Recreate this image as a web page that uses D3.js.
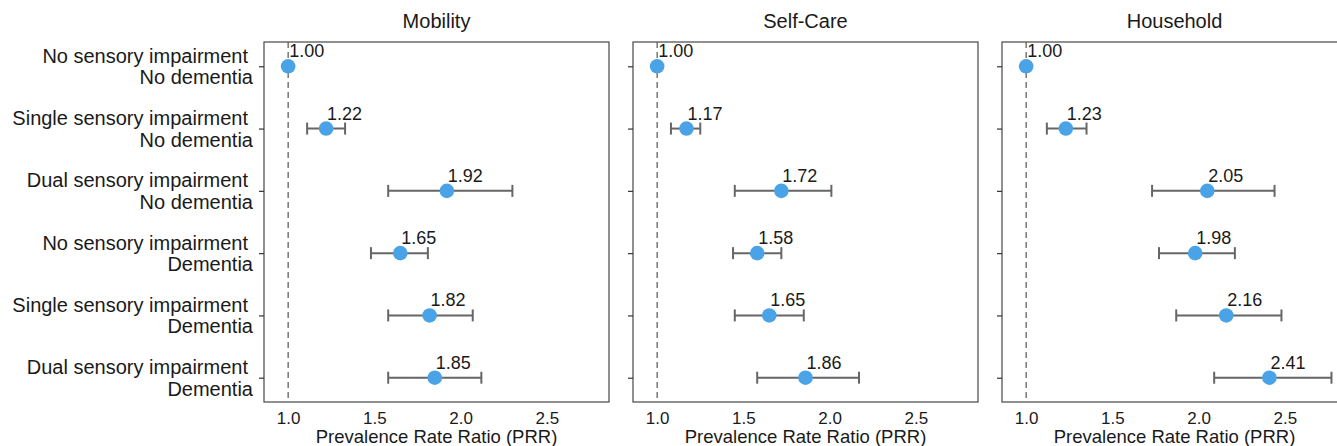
<!DOCTYPE html>
<html>
<head>
<meta charset="utf-8">
<script src="https://cdn.jsdelivr.net/npm/d3@7"></script>
<style>
  body { margin: 0; background: #fff; }
  text { font-family: "Liberation Sans", Arial, Helvetica, sans-serif; fill: #1a1a1a; }
</style>
</head>
<body>
<div id="chart"></div>
<script>
// row labels (two lines each)
var rowLine1 = ["No sensory impairment", "Single sensory impairment", "Dual sensory impairment",
                "No sensory impairment", "Single sensory impairment", "Dual sensory impairment"];
var rowLine2 = ["No dementia", "No dementia", "No dementia", "Dementia", "Dementia", "Dementia"];

var panelTitles = ["Mobility", "Self-Care", "Household"];

var mobilityPRR  = [1.00, 1.22, 1.92, 1.65, 1.82, 1.85];
var mobilityLow  = [1.00, 1.11, 1.58, 1.48, 1.58, 1.58];
var mobilityHigh = [1.00, 1.33, 2.30, 1.81, 2.07, 2.12];

var selfCarePRR  = [1.00, 1.17, 1.72, 1.58, 1.65, 1.86];
var selfCareLow  = [1.00, 1.08, 1.45, 1.44, 1.45, 1.58];
var selfCareHigh = [1.00, 1.25, 2.01, 1.72, 1.85, 2.17];

var householdPRR  = [1.00, 1.23, 2.05, 1.98, 2.16, 2.41];
var householdLow  = [1.00, 1.12, 1.73, 1.77, 1.87, 2.09];
var householdHigh = [1.00, 1.35, 2.44, 2.21, 2.48, 2.77];

var xTicks = [1.0, 1.5, 2.0, 2.5];

var svgWidth = 1337;
var svgHeight = 446;
var panelWidth = 345;
var panelGap = 24;
var margin = {top: 42, left: 264, bottom: 44};
var plotHeight = svgHeight - margin.top - margin.bottom;

var svg = d3.select("#chart")
    .append("svg")
    .attr("width", svgWidth)
    .attr("height", svgHeight);

var x = d3.scaleLinear()
    .domain([0.86, 2.86])
    .range([0, panelWidth]);

var y = d3.scalePoint()
    .domain(d3.range(rowLine1.length))
    .range([0, plotHeight])
    .padding(0.39);

var panels = [
    {title: panelTitles[0], prr: mobilityPRR, low: mobilityLow, high: mobilityHigh},
    {title: panelTitles[1], prr: selfCarePRR, low: selfCareLow, high: selfCareHigh},
    {title: panelTitles[2], prr: householdPRR, low: householdLow, high: householdHigh}
];

panels.forEach(function(p, i) {
    var g = svg.append("g")
        .attr("transform", `translate(${margin.left + i * (panelWidth + panelGap)},${margin.top})`);

    var rows = p.prr.map(function(v, j) {
        return {idx: j, prr: v, low: p.low[j], high: p.high[j]};
    });

    // reference line at 1
    g.append("line")
        .attr("x1", x(1)).attr("x2", x(1))
        .attr("y1", 0).attr("y2", plotHeight)
        .attr("stroke", "#555")
        .attr("stroke-width", 1.2)
        .attr("stroke-dasharray", "6,4");

    // error bars
    var ci = rows.filter(d => d.high > d.low);
    g.selectAll(".ci").data(ci).enter().append("line")
        .attr("x1", d => x(d.low)).attr("x2", d => x(d.high))
        .attr("y1", d => y(d.idx)).attr("y2", d => y(d.idx))
        .attr("stroke", "#666").attr("stroke-width", 2);
    g.selectAll(".capL").data(ci).enter().append("line")
        .attr("x1", d => x(d.low)).attr("x2", d => x(d.low))
        .attr("y1", d => y(d.idx) - 6).attr("y2", d => y(d.idx) + 6)
        .attr("stroke", "#666").attr("stroke-width", 2);
    g.selectAll(".capR").data(ci).enter().append("line")
        .attr("x1", d => x(d.high)).attr("x2", d => x(d.high))
        .attr("y1", d => y(d.idx) - 6).attr("y2", d => y(d.idx) + 6)
        .attr("stroke", "#666").attr("stroke-width", 2);

    // points
    g.selectAll("circle").data(rows).enter().append("circle")
        .attr("cx", d => x(d.prr))
        .attr("cy", d => y(d.idx))
        .attr("r", 7.3)
        .attr("fill", "#4aa3e6");

    // value labels
    g.selectAll(".val").data(rows).enter().append("text")
        .attr("x", d => x(d.prr) + 1)
        .attr("y", d => y(d.idx) - 9)
        .style("font-size", "18px")
        .text(d => d.prr.toFixed(2));

    // frame
    g.append("rect")
        .attr("width", panelWidth).attr("height", plotHeight)
        .attr("fill", "none")
        .attr("stroke", "#555")
        .attr("stroke-width", 1.3);

    // y ticks
    var leftAxis = d3.axisLeft(y).tickSize(5).tickFormat("");
    var yAxis = g.append("g").call(leftAxis);
    yAxis.select(".domain").remove();
    yAxis.selectAll("line").attr("stroke", "#333").attr("stroke-width", 1.2);

    // x axis
    var bottomAxis = d3.axisBottom(x).tickValues(xTicks).tickSize(0).tickPadding(10)
        .tickFormat(d3.format(".1f"));
    var xAxis = g.append("g")
        .attr("transform", `translate(0,${plotHeight})`)
        .call(bottomAxis);
    xAxis.select(".domain").remove();
    xAxis.selectAll("text")
        .style("font-size", "17px")
        .style("font-family", "'Liberation Sans', Arial, sans-serif")
        .attr("fill", "#1a1a1a");

    g.append("text")
        .attr("x", panelWidth / 2)
        .attr("y", plotHeight + 41)
        .attr("text-anchor", "middle")
        .style("font-size", "18.5px")
        .text("Prevalence Rate Ratio (PRR)");

    g.append("text")
        .attr("x", panelWidth / 2)
        .attr("y", -14)
        .attr("text-anchor", "middle")
        .style("font-size", "20px")
        .text(p.title);

    // row labels on first panel only
    if (i === 0) {
        var lab = g.selectAll(".rowlab").data(rows).enter().append("g");
        lab.append("text")
            .attr("x", -16)
            .attr("y", d => y(d.idx) - 3.5)
            .attr("text-anchor", "end")
            .style("font-size", "20px")
            .text(d => rowLine1[d.idx]);
        lab.append("text")
            .attr("x", -11)
            .attr("y", d => y(d.idx) + 18)
            .attr("text-anchor", "end")
            .style("font-size", "20px")
            .text(d => rowLine2[d.idx]);
    }
});
</script>
</body>
</html>
